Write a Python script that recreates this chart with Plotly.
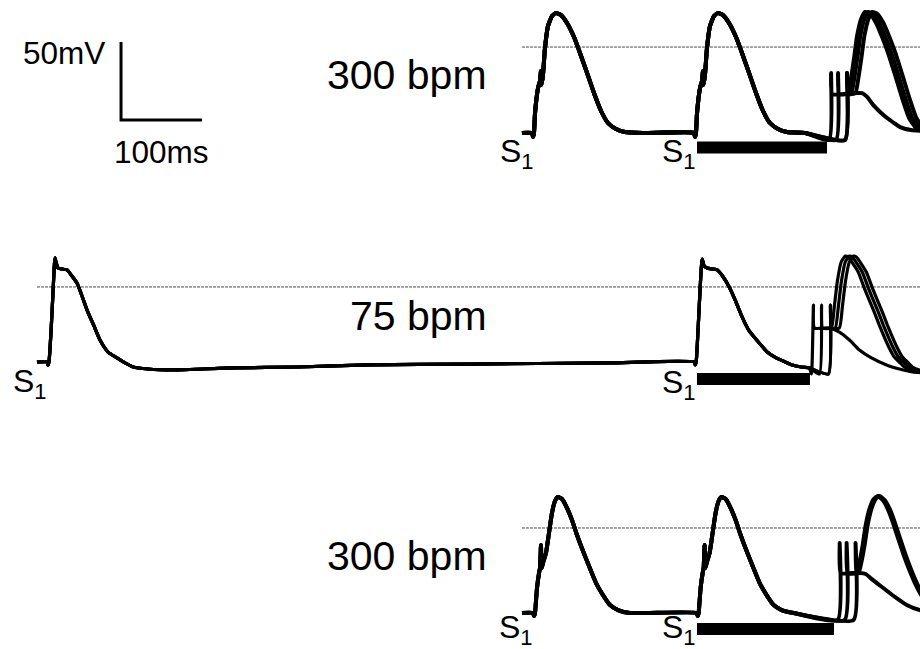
import plotly.graph_objects as go

# ------------------------------------------------------------------
# DATA  (time in ms, membrane potential in mV)
# ------------------------------------------------------------------
REST_MV = -80

# ---- Panel 1 : 300 bpm (top) ----
p1_label = "300 bpm"
p1_start_ms = -13.6
p1_s1_ms = [0, 200]
p1_ap_t = [0, 1.2, 2.5, 6.2, 8.6, 9.9, 10.5, 12.3, 14.8, 18.5, 23.5, 28.4, 34.6, 42,
           50.6, 58, 66.7, 75.3, 84, 92.6, 102.5, 113.6, 136]
p1_ap_v = [-82.6, -80, -67.2, -51.2, -46.7, -40.3, -49.2, -42.8, -25.5, -11.4, -5, -3.1,
           -4.4, -9.5, -18.5, -28.7, -41.5, -54.4, -65.9, -73.6, -77.4, -79.4, -80]
p1_s2_tip_ms = [368, 376.6, 387.7, 387.7]
p1_s2_onset_ms = [None, 389, 393, 398]
p1_art_v = [-84.5, -41.5]
p1_plateau_mv = -55.0
p1_succ_t = [0, 3.7, 7.4, 11.1, 16.1, 21, 27.2, 34.6, 42, 49.4, 58, 66.7, 75.3, 84, 93.9]
p1_succ_v = [-54.4, -44.7, -31.9, -17.8, -6.9, -2.4, -3.7, -9.5, -18.5, -28.7, -42.8,
             -57.6, -70.4, -76.8, -79.4]
p1_fail_t = [1.2, 18.5, 30.9, 38.3, 44.5, 51.9, 60.5, 69.2, 77.8, 85.2, 98.8, 112]
p1_fail_v = [-55, -55, -54.4, -54.4, -56.9, -62, -66.5, -70.4, -73.6, -76.2, -78.1, -78.7]
p1_bar_ms = [202.5, 363]
p1_bar_mv = -89.3
p1_ref_mv = -24.9

# ---- Panel 2 : 75 bpm (middle) ----
p2_label = "75 bpm"
p2_start_ms = -13.6
p2_s1_ms = [0, 799]
p2_ap1_t = [0, 1.2, 3.7, 6.2, 8.6, 9.9, 12.3, 17.3, 23.5, 29.6, 35.8, 42, 48.2, 56.8,
            64.2, 74.1, 85.2, 95.1, 105, 123.5, 154.4, 228.5, 308.8, 395.2, 518.7,
            691.6, 798]
p2_ap1_v = [-81.9, -80, -60.8, -35.1, -13.3, -15.9, -19.7, -20.4, -21, -24.9, -29.4,
            -37.7, -46.7, -56.9, -65.9, -73.6, -77.4, -80.6, -83.2, -84.5, -85.1, -83.8,
            -83.2, -81.9, -81.3, -80.6, -80]
p2_ap2_t = [0, 1.2, 3.7, 6.2, 8.6, 11.1, 14.8, 21, 27.2, 34.6, 42, 49.4, 58, 66.7, 79,
            88.9, 100, 111.2, 119.8, 130.9, 140.8]
p2_ap2_v = [-81.9, -80, -57.6, -31.9, -14, -18.5, -19.7, -20.4, -21, -25.5, -31.9,
            -40.3, -51.2, -60.1, -67.8, -73.6, -77.4, -80, -81.9, -83.2, -83.8]
p2_s2_tip_ms = [945, 955, 966, 966]
p2_s2_onset_ms = [None, 967, 972, 977]
p2_art_v = [-87.7, -43.5]
p2_plateau_mv = -58.2
p2_succ_t = [0, 3.7, 7.4, 12.3, 17.3, 21, 27.2, 33.3, 40.8, 46.9, 53.1, 59.3, 65.5,
             71.6, 77.8, 84, 90.2, 98.8, 111.2]
p2_succ_v = [-58.2, -44.7, -28.7, -15.9, -12.1, -12.7, -17.2, -22.3, -32.6, -40.3, -48,
             -56.3, -64, -71, -76.8, -80, -83.2, -85.1, -85.8]
p2_fail_t = [1.2, 19.8, 32.1, 44.5, 56.8, 71.6, 90.2, 106.2, 122.3, 136]
p2_fail_v = [-58.2, -58.2, -60.8, -65.9, -72.3, -77.4, -81.9, -84.5, -86.4, -87]
p2_bar_ms = [801.2, 940.7]
p2_bar_mv = -90.9
p2_ref_mv = -31.9

# ---- Panel 3 : 300 bpm (bottom) ----
p3_label = "300 bpm"
p3_start_ms = -14.8
p3_s1_ms = [0, 202]
p3_ap_t = [0, 1.2, 3.7, 6.2, 7.4, 8.6, 9.4, 11.1, 14.8, 18.5, 22.2, 25.9, 29.6, 34.6,
           40.8, 46.9, 53.1, 60.5, 67.9, 76.6, 85.2, 93.9, 103.7, 118.6]
p3_ap_v = [-81.9, -80, -64, -54.4, -51.2, -36.4, -51.2, -48, -41.5, -28.7, -15.9, -8.2,
           -5.6, -6.9, -12.7, -20.4, -30, -40.3, -49.9, -60.8, -68.5, -74.9, -78.1, -80]
p3_s2_tip_ms = [377.4, 386, 397]
p3_s2_onset_ms = [None, 398.4, 400.8]
p3_art_v = [-84.5, -35.1]
p3_plateau_mv = -54.4
p3_succ_t = [0, 3.7, 7.4, 11.1, 16.1, 21, 25.9, 32.1, 38.3, 44.5, 50.6, 58, 65.5, 72.9,
             80.3, 88.9, 98.8]
p3_succ_v = [-54.4, -46.7, -36.4, -23.6, -12.7, -6.9, -5, -7.6, -13.3, -21.7, -31.3,
             -42.8, -53.1, -62, -69.1, -74.9, -78.1]
p3_fail_t = [1.2, 14.8, 24.7, 32.1, 40.8, 50.6, 61.8, 71.6, 82.7, 98.8, 106]
p3_fail_v = [-54.4, -54.4, -54.4, -55, -58.8, -62.7, -67.2, -71, -74.9, -78.1, -78.7]
p3_bar_ms = [201.2, 370.4]
p3_bar_mv = -90.3
p3_ref_mv = -25.5

# scale bar
scale_ms = 100
scale_mv = 50
scale_origin_ms = -508.6   # in panel-1 time
scale_origin_mv = -71.7
scale_labels = ["50mV", "100ms"]
stim_label = "S<sub><span style='font-size:22px'>1</span></sub>"

# ------------------------------------------------------------------
# LAYOUT CONSTANTS
# ------------------------------------------------------------------
W, H = 920, 649
PX_PER_MS = 0.81
PX_PER_MV = 1.56
FONT = "Arial, Liberation Sans, sans-serif"
# pixel position of each panel's first stimulus and resting level
panel_origin = [(533, 133), (48, 362), (534, 613)]

ART_DT = [-2.5, 0]
PLATEAU_DT = 1.2


def build_sweep(start, stims, tpls, tip, art_v, plateau, onset, succ, fail):
    t, v = [start], [REST_MV]
    for s, (tt, tv) in zip(stims, tpls):
        if t[-1] < s - 1.2:
            t.append(s - 1.2)
            v.append(v[-1])
        t += [s + x for x in tt]
        v += list(tv)
    t += [tip + d for d in ART_DT]
    v += list(art_v)
    if onset is None:
        t += [tip + x for x in fail[0]]
        v += list(fail[1])
    else:
        t.append(tip + PLATEAU_DT)
        v.append(plateau)
        t += [onset + x for x in succ[0]]
        v += list(succ[1])
    return t, v


fig = go.Figure()

panels = [
    dict(start=p1_start_ms, stims=p1_s1_ms, tpls=[(p1_ap_t, p1_ap_v)] * 2,
         tips=p1_s2_tip_ms, onsets=p1_s2_onset_ms, art=p1_art_v, plateau=p1_plateau_mv,
         succ=(p1_succ_t, p1_succ_v), fail=(p1_fail_t, p1_fail_v),
         bar=p1_bar_ms, bar_mv=p1_bar_mv, ref=p1_ref_mv, width=4.0),
    dict(start=p2_start_ms, stims=p2_s1_ms, tpls=[(p2_ap1_t, p2_ap1_v), (p2_ap2_t, p2_ap2_v)],
         tips=p2_s2_tip_ms, onsets=p2_s2_onset_ms, art=p2_art_v, plateau=p2_plateau_mv,
         succ=(p2_succ_t, p2_succ_v), fail=(p2_fail_t, p2_fail_v),
         bar=p2_bar_ms, bar_mv=p2_bar_mv, ref=p2_ref_mv, width=3.2),
    dict(start=p3_start_ms, stims=p3_s1_ms, tpls=[(p3_ap_t, p3_ap_v)] * 2,
         tips=p3_s2_tip_ms, onsets=p3_s2_onset_ms, art=p3_art_v, plateau=p3_plateau_mv,
         succ=(p3_succ_t, p3_succ_v), fail=(p3_fail_t, p3_fail_v),
         bar=p3_bar_ms, bar_mv=p3_bar_mv, ref=p3_ref_mv, width=4.0),
]

for i, p in enumerate(panels):
    ax = "" if i == 0 else str(i + 1)
    xa, ya = "x" + ax, "y" + ax
    x0, y0 = panel_origin[i]
    x_right = (W - x0) / PX_PER_MS
    # reference dotted line
    fig.add_trace(go.Scatter(x=[p["start"], x_right], y=[p["ref"], p["ref"]], mode="lines",
                             line=dict(color="#4a4a4a", width=1, dash="3px,1px"),
                             xaxis=xa, yaxis=ya, hoverinfo="skip"))
    # sweeps
    for tip, onset in zip(p["tips"], p["onsets"]):
        t, v = build_sweep(p["start"], p["stims"], p["tpls"], tip, p["art"], p["plateau"],
                           onset, p["succ"], p["fail"])
        fig.add_trace(go.Scatter(x=t, y=v, mode="lines",
                                 line=dict(color="black", width=p["width"], shape="spline",
                                           smoothing=0.5),
                                 xaxis=xa, yaxis=ya, hoverinfo="skip"))
    # refractory bar
    fig.add_trace(go.Scatter(x=p["bar"], y=[p["bar_mv"]] * 2, mode="lines",
                             line=dict(color="black", width=12),
                             xaxis=xa, yaxis=ya, hoverinfo="skip"))

# scale bar (in panel-1 units)
fig.add_trace(go.Scatter(
    x=[scale_origin_ms, scale_origin_ms, scale_origin_ms + scale_ms],
    y=[scale_origin_mv + scale_mv, scale_origin_mv, scale_origin_mv],
    mode="lines", line=dict(color="black", width=3), xaxis="x", yaxis="y", hoverinfo="skip"))

layout = dict(width=W, height=H, margin=dict(l=0, r=0, t=0, b=0),
              paper_bgcolor="white", plot_bgcolor="white", showlegend=False)
for i in range(3):
    x0, y0 = panel_origin[i]
    xr = [-x0 / PX_PER_MS, (W - x0) / PX_PER_MS]
    yr = [REST_MV - (H - y0) / PX_PER_MV, REST_MV + y0 / PX_PER_MV]
    xk = "xaxis" if i == 0 else "xaxis%d" % (i + 1)
    yk = "yaxis" if i == 0 else "yaxis%d" % (i + 1)
    xd = dict(range=xr, visible=False, domain=[0, 1], fixedrange=True)
    yd = dict(range=yr, visible=False, domain=[0, 1], fixedrange=True)
    if i > 0:
        xd["overlaying"] = "x"
        yd["overlaying"] = "y"
        xd["anchor"] = "y%d" % (i + 1)
        yd["anchor"] = "x%d" % (i + 1)
    layout[xk] = xd
    layout[yk] = yd
fig.update_layout(**layout)


def px(x, y):
    return x / W, 1 - y / H


texts = [
    (p1_label, 407, 75, 41),
    (p2_label, 418, 316, 41),
    (p3_label, 407, 556, 41),
    (scale_labels[0], 64, 53, 31.5),
    (scale_labels[1], 161, 152, 31.5),
]
for txt, x, y, fs in texts:
    ax_, ay_ = px(x, y)
    fig.add_annotation(x=ax_, y=ay_, xref="paper", yref="paper", text=txt, showarrow=False,
                       xanchor="center", yanchor="middle",
                       font=dict(family=FONT, size=fs, color="black"))

stim_pos = [(498, 153), (660, 153), (11, 383), (660, 384), (497, 629), (660, 629)]
for x, y in stim_pos:
    ax_, ay_ = px(x, y)
    fig.add_annotation(x=ax_, y=ay_, xref="paper", yref="paper", text=stim_label,
                       showarrow=False, xanchor="left", yanchor="middle",
                       font=dict(family=FONT, size=32, color="black"))

fig.write_html("out.html", config={"displayModeBar": False},
               post_script="document.body.style.margin='0';document.body.style.overflow='hidden';")
